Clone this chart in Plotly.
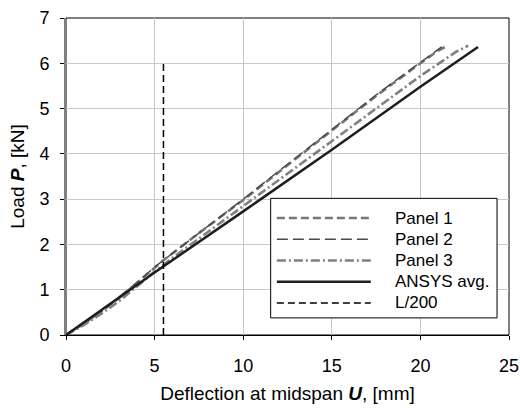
import plotly.graph_objects as go

# ---- data ----
p1_x = [0, 1, 2, 3, 4, 5, 5.5, 7.5, 10, 12.5, 15, 17.5, 20, 21, 21.5]
p1_y = [0, 0.25, 0.52, 0.82, 1.15, 1.48, 1.65, 2.25, 2.98, 3.75, 4.52, 5.28, 6.0, 6.28, 6.38]

p2_x = [0, 1, 2, 3, 4, 5, 6, 8, 10, 12.5, 15, 17.5, 20, 20.8, 21.2]
p2_y = [0, 0.24, 0.52, 0.83, 1.16, 1.5, 1.8, 2.4, 3.0, 3.77, 4.53, 5.3, 6.02, 6.25, 6.36]

p3_x = [0, 1, 2, 3, 4, 5, 6, 8, 10, 12.5, 15, 17.5, 20, 22, 22.7]
p3_y = [0, 0.22, 0.47, 0.75, 1.07, 1.4, 1.7, 2.27, 2.84, 3.55, 4.28, 5.0, 5.72, 6.25, 6.39]

ansys_x = [0, 5, 10, 15, 20, 23.25]
ansys_y = [0, 1.38, 2.73, 4.09, 5.48, 6.36]

l200_x = [5.5, 5.5]
l200_y = [0, 6]

series_names = ["Panel 1", "Panel 2", "Panel 3", "ANSYS avg.", "L/200"]
x_ticks = [0, 5, 10, 15, 20, 25]
y_ticks = [0, 1, 2, 3, 4, 5, 6, 7]

FONT = "Liberation Sans, Arial, sans-serif"

styles = [
    dict(color="#777777", width=2.6, dash="8px,4px"),
    dict(color="#4a4a4a", width=1.5, dash="11px,5px"),
    dict(color="#808080", width=2.6, dash="9px,3px,2px,3px"),
    dict(color="#1e1e1e", width=2.5, dash="solid"),
    dict(color="#000000", width=1.5, dash="7px,4px"),
]
data = [(p1_x, p1_y), (p2_x, p2_y), (p3_x, p3_y), (ansys_x, ansys_y), (l200_x, l200_y)]

fig = go.Figure()
for (xs, ys), name, st in zip(data, series_names, styles):
    fig.add_trace(go.Scatter(x=xs, y=ys, mode="lines", name=name, line=st,
                             showlegend=False))

# frame (top/right border)
shapes = [dict(type="rect", xref="paper", yref="paper", x0=0, x1=1, y0=0, y1=1,
               line=dict(color="black", width=1), layer="between")]

# manual legend
lx0, lx1, ly0, ly1 = 0.462, 0.973, 0.054, 0.431
shapes.append(dict(type="rect", xref="paper", yref="paper", x0=lx0, x1=lx1, y0=ly0, y1=ly1,
                   line=dict(color="black", width=1), fillcolor="white", layer="above"))
rows = [0.369, 0.302, 0.235, 0.168, 0.101]
annotations = []
for r, name, st in zip(rows, series_names, styles):
    shapes.append(dict(type="line", xref="paper", yref="paper", x0=0.476, x1=0.688, y0=r, y1=r,
                       line=st, layer="above"))
    annotations.append(dict(xref="paper", yref="paper", x=0.738, y=r, text=name,
                            showarrow=False, xanchor="left", yanchor="middle",
                            font=dict(family=FONT, size=17, color="black")))

fig.update_layout(
    width=520, height=408,
    margin=dict(l=66, r=11, t=18, b=73),
    paper_bgcolor="white", plot_bgcolor="white",
    font=dict(family=FONT, size=18, color="black"),
    shapes=shapes, annotations=annotations,
    showlegend=False,
)
fig.update_xaxes(
    range=[0, 25], tickvals=x_ticks, showgrid=True, gridcolor="#c8c8c8", gridwidth=1,
    zeroline=False, showline=True, linecolor="black", linewidth=1,
    ticks="outside", ticklen=4, tickcolor="black", automargin=False,
    tickfont=dict(family=FONT, size=18), ticklabelstandoff=10,
    title=dict(text="Deflection at midspan <b><i>U</i></b>, [mm]", font=dict(family=FONT, size=19), standoff=12),
)
fig.update_yaxes(
    range=[0, 7], tickvals=y_ticks, showgrid=True, gridcolor="#c8c8c8", gridwidth=1,
    zeroline=False, showline=True, linecolor="#808080", linewidth=2,
    ticks="outside", ticklen=4, tickcolor="black", automargin=False,
    tickfont=dict(family=FONT, size=18), ticklabelstandoff=7,
    title=dict(text="Load <b><i>P</i></b>, [kN]", font=dict(family=FONT, size=19), standoff=10),
)

fig.write_html("out.html", config={"displayModeBar": False},
               post_script="document.body.style.margin='0';document.body.style.overflow='hidden';")
